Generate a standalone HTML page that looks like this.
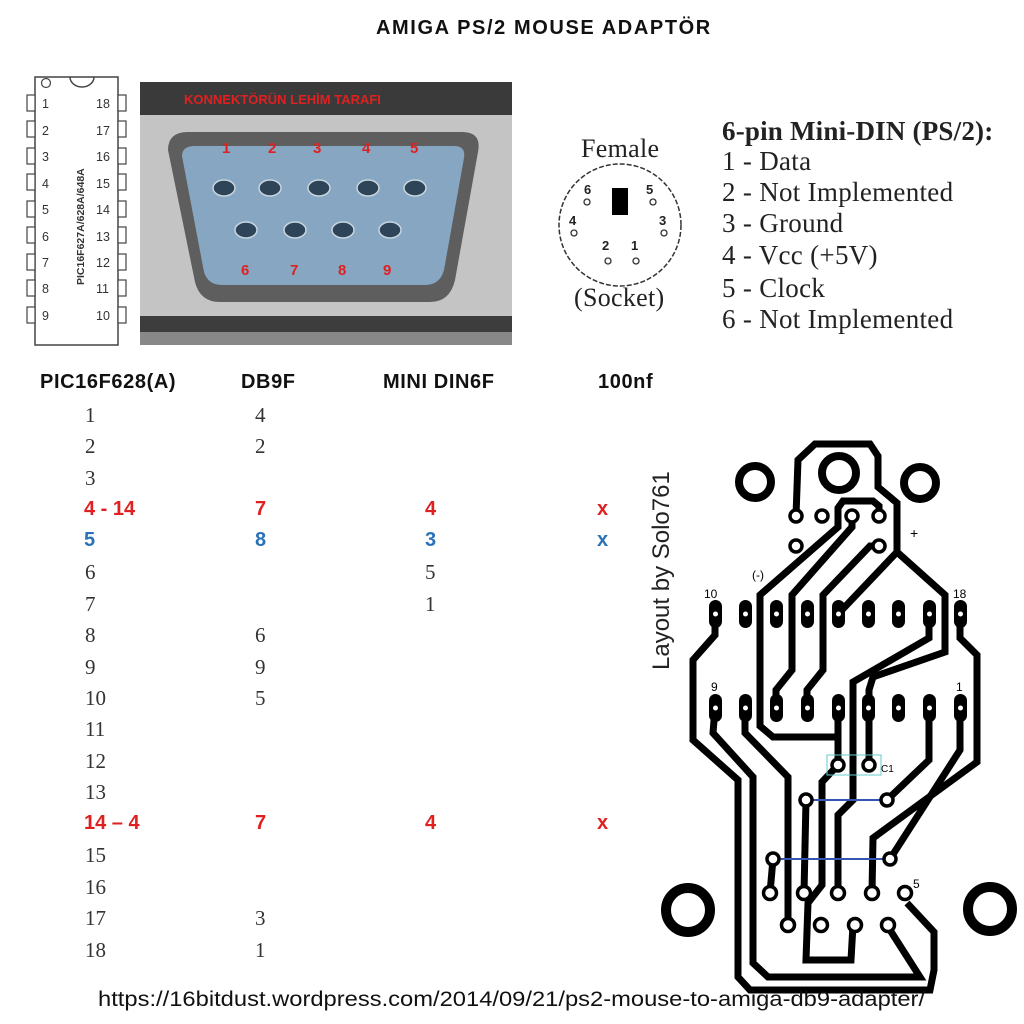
<!DOCTYPE html>
<html><head><meta charset="utf-8"><style>
body{margin:0;width:1024px;height:1024px;background:#fff;position:relative;overflow:hidden;font-family:"Liberation Sans",sans-serif}
.a{position:absolute;white-space:nowrap}
.h{font-weight:bold;font-size:20px;color:#111;letter-spacing:0.6px}
.n{font-family:"Liberation Serif",serif;font-size:21px;color:#333}
.r{font-weight:bold;font-size:20px;color:#e02020}
.b{font-weight:bold;font-size:20px;color:#2a72b8}
.s{font-family:"Liberation Serif",serif;font-size:27px;color:#222;letter-spacing:0.3px}
</style></head><body>
<div class="a" style="left:376px;top:17px;font-weight:bold;font-size:20px;color:#111;letter-spacing:1.6px">AMIGA PS/2 MOUSE ADAPTÖR</div>

<svg class="a" style="left:0;top:0" width="1024" height="1024">
 <rect x="35" y="77" width="83" height="268" fill="#fff" stroke="#444" stroke-width="1.5"/>
 <path d="M70,77 A12,10 0 0 0 94,77" fill="none" stroke="#444" stroke-width="1.5"/>
 <circle cx="46" cy="83" r="4.5" fill="none" stroke="#444" stroke-width="1.2"/>
 <g fill="#fff" stroke="#444" stroke-width="1.2">
  <rect x="27" y="95" width="8" height="16"/><rect x="27" y="121" width="8" height="16"/><rect x="27" y="148" width="8" height="16"/><rect x="27" y="174" width="8" height="16"/><rect x="27" y="201" width="8" height="16"/><rect x="27" y="227" width="8" height="16"/><rect x="27" y="254" width="8" height="16"/><rect x="27" y="280" width="8" height="16"/><rect x="27" y="307" width="8" height="16"/>
  <rect x="118" y="95" width="8" height="16"/><rect x="118" y="121" width="8" height="16"/><rect x="118" y="148" width="8" height="16"/><rect x="118" y="174" width="8" height="16"/><rect x="118" y="201" width="8" height="16"/><rect x="118" y="227" width="8" height="16"/><rect x="118" y="254" width="8" height="16"/><rect x="118" y="280" width="8" height="16"/><rect x="118" y="307" width="8" height="16"/>
 </g>
 <g font-family="Liberation Sans" font-size="12.5" fill="#333">
  <text x="42" y="108">1</text><text x="42" y="135">2</text><text x="42" y="161">3</text><text x="42" y="188">4</text><text x="42" y="214">5</text><text x="42" y="241">6</text><text x="42" y="267">7</text><text x="42" y="293">8</text><text x="42" y="320">9</text>
  <text x="96" y="108">18</text><text x="96" y="135">17</text><text x="96" y="161">16</text><text x="96" y="188">15</text><text x="96" y="214">14</text><text x="96" y="241">13</text><text x="96" y="267">12</text><text x="96" y="293">11</text><text x="96" y="320">10</text>
  <text transform="translate(84,285) rotate(-90)" font-size="10.5" font-weight="bold">PIC16F627A/628A/648A</text>
 </g>
 <rect x="140" y="82" width="372" height="263" fill="#c4c4c4"/>
 <rect x="140" y="82" width="372" height="33" fill="#3a3a3a"/>
 <rect x="140" y="316" width="372" height="29" fill="#3d3d3d"/>
 <rect x="140" y="332" width="372" height="13" fill="#888"/>
 <text x="184" y="104" font-family="Liberation Sans" font-weight="bold" font-size="13" fill="#e02020">KONNEKTÖRÜN LEHİM TARAFI</text>
 <path d="M168,150 Q168,132 188,132 L462,132 Q482,132 478,152 L455,280 Q450,302 430,302 L220,302 Q200,302 195,282 Z" fill="#5e5e5e"/>
 <path d="M182,156 Q182,146 195,146 L454,146 Q466,146 464,158 L444,270 Q440,285 425,285 L222,285 Q208,285 204,272 Z" fill="#86a6c2"/>
 <g fill="#2e4458" stroke="#c9d6e0" stroke-width="1.5">
  <ellipse cx="224" cy="188" rx="11" ry="8"/><ellipse cx="270" cy="188" rx="11" ry="8"/><ellipse cx="319" cy="188" rx="11" ry="8"/><ellipse cx="368" cy="188" rx="11" ry="8"/><ellipse cx="415" cy="188" rx="11" ry="8"/>
  <ellipse cx="246" cy="230" rx="11" ry="8"/><ellipse cx="295" cy="230" rx="11" ry="8"/><ellipse cx="343" cy="230" rx="11" ry="8"/><ellipse cx="390" cy="230" rx="11" ry="8"/>
 </g>
 <g font-family="Liberation Sans" font-weight="bold" font-size="15" fill="#e02020">
  <text x="222" y="153">1</text><text x="268" y="153">2</text><text x="313" y="153">3</text><text x="362" y="153">4</text><text x="410" y="153">5</text>
  <text x="241" y="275">6</text><text x="290" y="275">7</text><text x="338" y="275">8</text><text x="383" y="275">9</text>
 </g>
 <circle cx="620" cy="225" r="61" fill="none" stroke="#333" stroke-width="1.5" stroke-dasharray="5 2"/>
 <rect x="612" y="188" width="16" height="27" fill="#000"/>
 <g fill="none" stroke="#333" stroke-width="1.3">
  <circle cx="587" cy="202" r="3"/><circle cx="653" cy="202" r="3"/><circle cx="574" cy="233" r="3"/><circle cx="664" cy="233" r="3"/><circle cx="608" cy="261" r="3"/><circle cx="636" cy="261" r="3"/>
 </g>
 <g font-family="Liberation Sans" font-weight="bold" font-size="13" fill="#222">
  <text x="584" y="194">6</text><text x="646" y="194">5</text><text x="569" y="225">4</text><text x="659" y="225">3</text><text x="602" y="250">2</text><text x="631" y="250">1</text>
 </g>
</svg>
<div class="a s" style="left:581px;top:134px;font-size:26px">Female</div>
<div class="a s" style="left:574px;top:283px;font-size:26px">(Socket)</div>
<div class="a s" style="left:722px;top:116px;font-weight:bold;letter-spacing:0.2px">6-pin Mini-DIN (PS/2):</div>
<div class="a s" style="left:722px;top:146px">1 - Data</div>
<div class="a s" style="left:722px;top:177px">2 - Not Implemented</div>
<div class="a s" style="left:722px;top:208px">3 - Ground</div>
<div class="a s" style="left:722px;top:240px">4 - Vcc (+5V)</div>
<div class="a s" style="left:722px;top:273px">5 - Clock</div>
<div class="a s" style="left:722px;top:304px">6 - Not Implemented</div>

<div class="a h" style="left:40px;top:371px">PIC16F628(A)</div>
<div class="a h" style="left:241px;top:371px">DB9F</div>
<div class="a h" style="left:383px;top:371px">MINI DIN6F</div>
<div class="a h" style="left:598px;top:371px">100nf</div>
<div class="a n" style="left:85px;top:403px">1</div><div class="a n" style="left:255px;top:403px">4</div>
<div class="a n" style="left:85px;top:434px">2</div><div class="a n" style="left:255px;top:434px">2</div>
<div class="a n" style="left:85px;top:466px">3</div>
<div class="a r" style="left:84px;top:498px">4 - 14</div><div class="a r" style="left:255px;top:498px">7</div><div class="a r" style="left:425px;top:498px">4</div><div class="a r" style="left:597px;top:498px">x</div>
<div class="a b" style="left:84px;top:529px">5</div><div class="a b" style="left:255px;top:529px">8</div><div class="a b" style="left:425px;top:529px">3</div><div class="a b" style="left:597px;top:529px">x</div>
<div class="a n" style="left:85px;top:560px">6</div><div class="a n" style="left:425px;top:560px">5</div>
<div class="a n" style="left:85px;top:592px">7</div><div class="a n" style="left:425px;top:592px">1</div>
<div class="a n" style="left:85px;top:623px">8</div><div class="a n" style="left:255px;top:623px">6</div>
<div class="a n" style="left:85px;top:655px">9</div><div class="a n" style="left:255px;top:655px">9</div>
<div class="a n" style="left:85px;top:686px">10</div><div class="a n" style="left:255px;top:686px">5</div>
<div class="a n" style="left:85px;top:717px">11</div>
<div class="a n" style="left:85px;top:749px">12</div>
<div class="a n" style="left:85px;top:780px">13</div>
<div class="a r" style="left:84px;top:812px">14 – 4</div><div class="a r" style="left:255px;top:812px">7</div><div class="a r" style="left:425px;top:812px">4</div><div class="a r" style="left:597px;top:812px">x</div>
<div class="a n" style="left:85px;top:843px">15</div>
<div class="a n" style="left:85px;top:875px">16</div>
<div class="a n" style="left:85px;top:906px">17</div><div class="a n" style="left:255px;top:906px">3</div>
<div class="a n" style="left:85px;top:938px">18</div><div class="a n" style="left:255px;top:938px">1</div>

<svg class="a" style="left:0;top:0" width="1024" height="1024">
 <g fill="none" stroke="#000" stroke-width="7">
  <path d="M796,516 L798,460 L815,444 L870,444 L878,456 L878,487 L897,503 L897,552 L945,595 L945,652 L873,677 L869,690 L869,765"/>
  <path d="M897,552 L840,612"/>
  <path d="M879,516 L879,506 L873,501 L843,501 L838,508 L838,527 L760,595 L760,726 L773,737 L838,737"/>
  <path d="M838,708 L838,765"/>
  <path d="M852,516 L852,527 L792,595 L792,670 L776,690 L776,708"/>
  <path d="M879,546 L870,546 L823,595 L823,670 L807,690 L807,708"/>
  <path d="M929,614 L929,638 L853,682 L853,800 L838,815 L838,893"/>
  <path d="M960,614 L960,638 L977,655 L977,762 L873,838 L872,893"/>
  <path d="M960,708 L960,750 L890,859"/>
  <path d="M929,708 L929,760 L887,800"/>
  <path d="M838,765 L822,782 L822,885 L808,903 L806,960 L851,960 L853,925"/>
  <path d="M773,859 L770,893"/>
  <path d="M806,800 L804,893"/>
  <path d="M715,614 L715,635 L693,660 L693,740 L738,780 L738,977 L750,990 L930,990 L934,970 L934,932 L907,903"/>
  <path d="M715,708 L713,733 L753,777 L753,963 L768,977 L920,977 L890,930"/>
  <path d="M745,708 L745,733 L788,777 L788,920"/>
 </g>
 <g fill="none" stroke="#000" stroke-width="8">
  <circle cx="839" cy="473" r="17"/><circle cx="755" cy="482" r="16"/><circle cx="920" cy="483" r="16"/>
 </g>
 <g fill="none" stroke="#000" stroke-width="10">
  <circle cx="688" cy="910" r="22"/><circle cx="990" cy="909" r="22"/>
 </g>
 <g fill="#000">
  <rect x="709" y="600" width="13" height="28" rx="6.5"/><rect x="739" y="600" width="13" height="28" rx="6.5"/><rect x="770" y="600" width="13" height="28" rx="6.5"/><rect x="801" y="600" width="13" height="28" rx="6.5"/><rect x="832" y="600" width="13" height="28" rx="6.5"/><rect x="862" y="600" width="13" height="28" rx="6.5"/><rect x="892" y="600" width="13" height="28" rx="6.5"/><rect x="923" y="600" width="13" height="28" rx="6.5"/><rect x="954" y="600" width="13" height="28" rx="6.5"/>
  <rect x="709" y="694" width="13" height="28" rx="6.5"/><rect x="739" y="694" width="13" height="28" rx="6.5"/><rect x="770" y="694" width="13" height="28" rx="6.5"/><rect x="801" y="694" width="13" height="28" rx="6.5"/><rect x="832" y="694" width="13" height="28" rx="6.5"/><rect x="862" y="694" width="13" height="28" rx="6.5"/><rect x="892" y="694" width="13" height="28" rx="6.5"/><rect x="923" y="694" width="13" height="28" rx="6.5"/><rect x="954" y="694" width="13" height="28" rx="6.5"/>
 </g>
 <g fill="#fff">
  <circle cx="715.5" cy="614" r="2.5"/><circle cx="745.5" cy="614" r="2.5"/><circle cx="776.5" cy="614" r="2.5"/><circle cx="807.5" cy="614" r="2.5"/><circle cx="838.5" cy="614" r="2.5"/><circle cx="868.5" cy="614" r="2.5"/><circle cx="898.5" cy="614" r="2.5"/><circle cx="929.5" cy="614" r="2.5"/><circle cx="960.5" cy="614" r="2.5"/>
  <circle cx="715.5" cy="708" r="2.5"/><circle cx="745.5" cy="708" r="2.5"/><circle cx="776.5" cy="708" r="2.5"/><circle cx="807.5" cy="708" r="2.5"/><circle cx="838.5" cy="708" r="2.5"/><circle cx="868.5" cy="708" r="2.5"/><circle cx="898.5" cy="708" r="2.5"/><circle cx="929.5" cy="708" r="2.5"/><circle cx="960.5" cy="708" r="2.5"/>
 </g>
 <rect x="827" y="755" width="54" height="20" fill="none" stroke="#6cc" stroke-width="1"/>
 <line x1="806" y1="800" x2="887" y2="800" stroke="#3456b0" stroke-width="2"/>
 <line x1="773" y1="859" x2="890" y2="859" stroke="#3456b0" stroke-width="2"/>
 <g fill="#fff" stroke="#000" stroke-width="3.5">
  <circle cx="796" cy="516" r="6"/><circle cx="822" cy="516" r="6"/><circle cx="852" cy="516" r="6"/><circle cx="879" cy="516" r="6"/>
  <circle cx="796" cy="546" r="6"/><circle cx="879" cy="546" r="6"/>
  <circle cx="838" cy="765" r="6"/><circle cx="869" cy="765" r="6"/>
  <circle cx="806" cy="800" r="6"/><circle cx="887" cy="800" r="6"/>
  <circle cx="773" cy="859" r="6"/><circle cx="890" cy="859" r="6"/>
  <circle cx="770" cy="893" r="6.5"/><circle cx="804" cy="893" r="6.5"/><circle cx="838" cy="893" r="6.5"/><circle cx="872" cy="893" r="6.5"/><circle cx="905" cy="893" r="6.5"/>
  <circle cx="788" cy="925" r="6.5"/><circle cx="821" cy="925" r="6.5"/><circle cx="855" cy="925" r="6.5"/><circle cx="888" cy="925" r="6.5"/>
 </g>
 <g font-family="Liberation Sans" font-size="12" fill="#000">
  <text x="704" y="598">10</text><text x="953" y="598">18</text><text x="711" y="691">9</text><text x="956" y="691">1</text>
  <text x="752" y="579">(-)</text><text x="910" y="538" font-size="14">+</text><text x="881" y="772" font-size="10">C1</text><text x="913" y="888">5</text>
 </g>
 <text transform="translate(669,670) rotate(-90)" font-family="Liberation Sans" font-size="24" fill="#222">Layout by Solo761</text>
</svg>

<div class="a" style="left:98px;top:988px;font-size:21px;color:#111;transform:scaleX(1.13);transform-origin:0 0">https://16bitdust.wordpress.com/2014/09/21/ps2-mouse-to-amiga-db9-adapter/</div>
</body></html>
